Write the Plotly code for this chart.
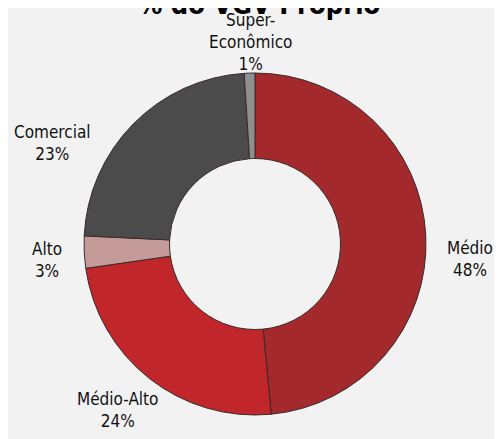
import plotly.graph_objects as go

categories = ["Médio", "Médio-Alto", "Alto", "Comercial", "Super-Econômico"]
display_labels = ["Médio", "Médio-Alto", "Alto", "Comercial", "Super-<br>Econômico"]
values = [48, 24, 3, 23, 1]
colors = ["#a3292d", "#c0262a", "#c59b9a", "#4b4b4b", "#8e8e8e"]
title_text = "% do VGV Próprio"

W, H = 502, 439
OFF = 8  # page body margin in the browser
FONT = "DejaVu Sans Condensed, DejaVu Sans, sans-serif"


def px_x(x):
    return (x - OFF) / W


def px_y(y):
    return 1 - (y - OFF) / H


# label placement (layout, screen pixels from top-left) for each category
label_pos = {
    "Médio": (470, 259),
    "Médio-Alto": (117, 410),
    "Alto": (47, 260),
    "Comercial": (52, 143),
    "Super-Econômico": (250, 42),
}

fig = go.Figure(go.Pie(
    labels=categories,
    values=values,
    textinfo="none",
    hole=0.5,
    sort=False,
    direction="clockwise",
    rotation=0,
    marker=dict(colors=colors, line=dict(color="#3a2a2a", width=1)),
    domain=dict(x=[px_x(84), px_x(426)], y=[px_y(415), px_y(73)]),
    showlegend=False,
    hoverinfo="label+percent",
))

total = sum(values)
annotations = []
for cat, disp, v in zip(categories, display_labels, values):
    lx, ly = label_pos[cat]
    annotations.append(dict(
        text=f"{disp}<br>{round(v/total*100)}%",
        x=px_x(lx), y=px_y(ly), xref="paper", yref="paper",
        xanchor="center", yanchor="middle", showarrow=False, align="center",
        font=dict(family=FONT, size=17, color="#111111"),
    ))
annotations.append(dict(
    text="<b>" + title_text + "</b>",
    x=px_x(259), y=px_y(4), xref="paper", yref="paper",
    xanchor="center", yanchor="middle", showarrow=False,
    font=dict(family=FONT, size=27, color="#000000"),
))

fig.update_layout(
    width=W, height=H,
    margin=dict(l=0, r=0, t=0, b=0),
    paper_bgcolor="#f2f2f2",
    plot_bgcolor="#f2f2f2",
    annotations=annotations,
)

fig.write_html("out.html")
